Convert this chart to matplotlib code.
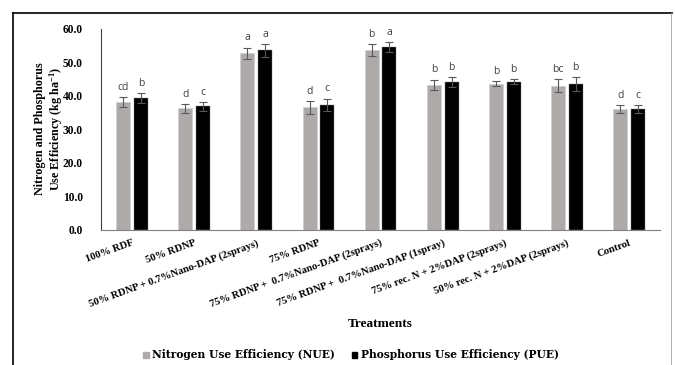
import matplotlib
matplotlib.use("Agg")
import matplotlib.pyplot as plt
from matplotlib.lines import Line2D
from matplotlib.patches import Patch
import numpy as np

treatments = ["100% RDF", "50% RDNP", "50% RDNP + 0.7%Nano-DAP (2sprays)", "75% RDNP",
              "75% RDNP +  0.7%Nano-DAP (2sprays)", "75% RDNP +  0.7%Nano-DAP (1spray)",
              "75% rec. N + 2%DAP (2sprays)", "50% rec. N + 2%DAP (2sprays)", "Control"]
nue = [38.2, 36.2, 52.6, 36.5, 53.6, 43.2, 43.6, 43.0, 35.9]
pue = [39.2, 36.8, 53.5, 37.3, 54.5, 44.0, 44.2, 43.4, 35.9]
nue_err = [1.45, 1.25, 1.75, 1.85, 1.7, 1.6, 0.8, 1.9, 1.2]
pue_err = [1.5, 1.35, 1.9, 1.85, 1.6, 1.5, 0.75, 2.1, 1.2]
nue_letters = ["cd", "d", "a", "d", "b", "b", "b", "bc", "d"]
pue_letters = ["b", "c", "a", "c", "a", "b", "b", "b", "c"]
yticks = [0, 10, 20, 30, 40, 50, 60]

serif = ["Liberation Serif", "DejaVu Serif"]
plt.rcParams["mathtext.fontset"] = "custom"
plt.rcParams["mathtext.rm"] = "Liberation Serif:bold"
plt.rcParams["mathtext.it"] = "Liberation Serif:bold"
plt.rcParams["mathtext.bf"] = "Liberation Serif:bold"

fig = plt.figure(figsize=(6.75, 3.65), dpi=100)
ax = fig.add_axes([0.1496, 0.3707, 0.8284, 0.5507])

x = np.arange(len(treatments))
w = 0.225
off = 0.142
gray = "#AEAAAA"
ax.bar(x - off, nue, w, color=gray, edgecolor="#D0CECE", linewidth=0.5, zorder=2)
ax.bar(x + off, pue, w, color="black", edgecolor="#808080", linewidth=0.3, zorder=2)
ax.errorbar(x - off, nue, yerr=nue_err, fmt="none", ecolor="#595959", elinewidth=0.8,
            capsize=2.6, capthick=0.8, zorder=3)
ax.errorbar(x + off, pue, yerr=pue_err, fmt="none", ecolor="#595959", elinewidth=0.8,
            capsize=2.6, capthick=0.8, zorder=3)

for i in range(len(treatments)):
    ax.text(x[i] - off, nue[i] + nue_err[i] + 2.9, nue_letters[i], ha="center", va="center",
            fontsize=7.5, color="#404040", family=["Open Sans", "DejaVu Sans"])
    ax.text(x[i] + off, pue[i] + pue_err[i] + 2.9, pue_letters[i], ha="center", va="center",
            fontsize=7.5, color="#404040", family=["Open Sans", "DejaVu Sans"])

ax.set_xlim(-0.5, len(treatments) - 0.5)
ax.set_ylim(0, 60)
ax.set_yticks(yticks)
ax.set_yticklabels([f"{v:.1f}" for v in yticks], fontsize=8.3, fontweight="bold", family=serif)
ax.set_xticks(x)
ax.set_xticklabels(treatments, rotation=20, ha="right", rotation_mode="anchor",
                   fontsize=7.6, fontweight="bold", family=serif)
ax.tick_params(axis="both", length=0)
ax.tick_params(axis="y", pad=13)
ax.tick_params(axis="x", pad=6)
for s in ["top", "right"]:
    ax.spines[s].set_visible(False)
ax.spines["left"].set_color("#404040")
ax.spines["left"].set_linewidth(0.8)
ax.spines["bottom"].set_color("#808080")
ax.spines["bottom"].set_linewidth(0.8)

fig.text(0.073, 0.648, "Nitrogen and Phosphorus\nUse Efficiency (kg ha$^{-1}$)",
         rotation=90, ha="center", va="center", fontsize=8.7, fontweight="bold",
         family=serif, linespacing=1.1)
fig.text(0.563, 1 - 324 / 365, "Treatments", ha="center", va="center", fontsize=9.6,
         fontweight="bold", family=serif)

handles = [Patch(facecolor=gray, edgecolor=gray), Patch(facecolor="black", edgecolor="black")]
fig.legend(handles, ["Nitrogen Use Efficiency (NUE)", "Phosphorus Use Efficiency (PUE)"],
           loc="center", bbox_to_anchor=(0.52, 1 - 355 / 365), ncol=2, frameon=False,
           prop={"family": ["DejaVu Serif"], "weight": "bold", "size": 7.7},
           handlelength=0.5, handleheight=0.5, handletextpad=0.3, columnspacing=1.6)

# outer frame
fig.add_artist(Line2D([13 / 675, 672 / 675], [1 - 13 / 365, 1 - 13 / 365],
                      transform=fig.transFigure, color="black", linewidth=1.2))
fig.add_artist(Line2D([13 / 675, 13 / 675], [0, 1 - 13 / 365],
                      transform=fig.transFigure, color="black", linewidth=1.2))
fig.add_artist(Line2D([670.5 / 675, 670.5 / 675], [0, 1 - 13 / 365],
                      transform=fig.transFigure, color="#A0A0A0", linewidth=0.6))

fig.savefig("out.png", dpi=100)
